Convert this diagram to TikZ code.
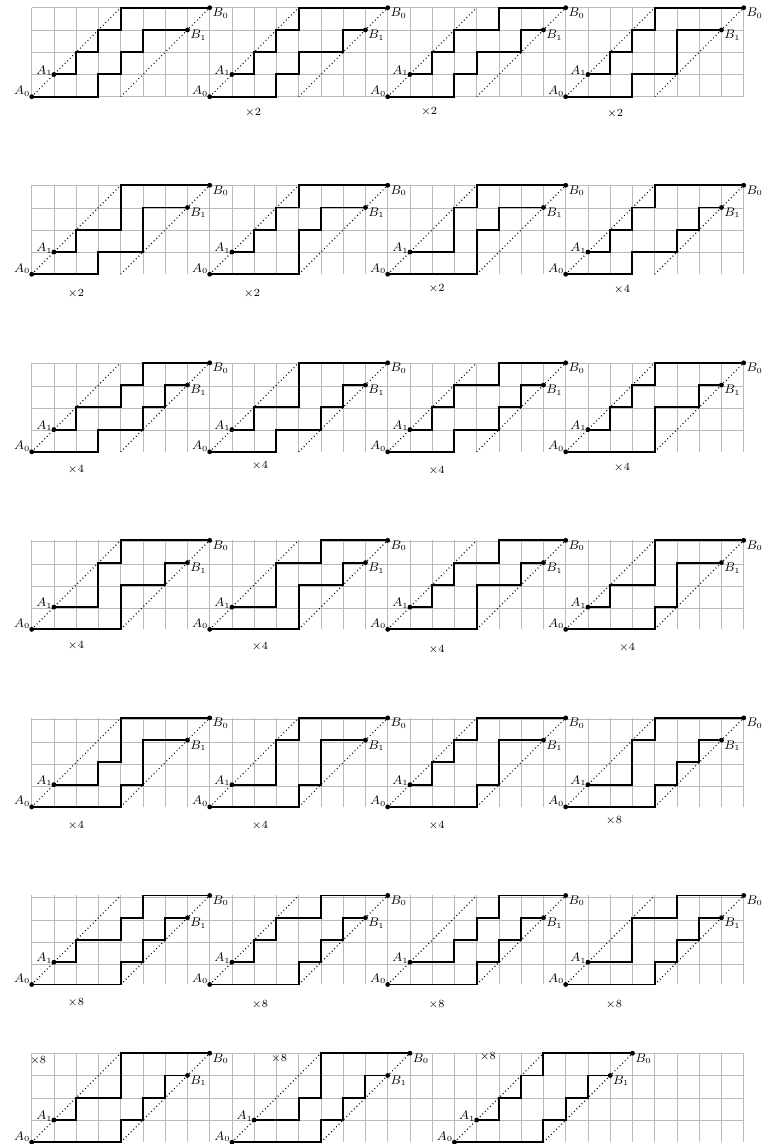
\documentclass[tikz,border=0pt]{standalone}
\begin{document}
\begin{tikzpicture}[x=0.5cm,y=0.5cm]
\tikzset{
  gridline/.style={draw=black!27, line width=0.5pt},
  lpath/.style={line width=1.25pt, line join=miter},
  diag/.style={line width=0.75pt, dash pattern=on 0.55pt off 1.75pt},
  vtx/.style={circle, fill=black, inner sep=0pt, minimum size=3.1pt},
  lbl/.style={font=\fontsize{7.6}{9}\selectfont, inner sep=0pt},
  mult/.style={font=\fontsize{7.4}{9}\selectfont, inner sep=0pt},
}
\newcommand\pnl[9]{%
  \begin{scope}[shift={(#2,#3)}]
    \coordinate (T#1) at (4,4);
    \coordinate (S#1) at (4,0);
    \node[vtx] (A0#1) at (0,0) {};
    \node[vtx] (A1#1) at (1,1) {};
    \node[vtx] (B0#1) at (8,4) {};
    \node[vtx] (B1#1) at (7,3) {};
    \draw[diag] (A0#1.center) -- (T#1);
    \draw[diag] (S#1) -- (B0#1.center);
    \draw[lpath] (A1#1.center) -| (#4,2) -| (#5,3) -| (#6,4) -- (B0#1.center);
    \draw[lpath] (A0#1.center) -| (#7,1) -| (#8,2) -| (#9,3) -- (B1#1.center);
    \node[lbl, anchor=east] (LA0#1) at (-0.05,0.25) {$A_0$};
    \node[lbl, anchor=east] (LA1#1) at (0.95,1.17) {$A_1$};
    \node[lbl, anchor=west] (LB0#1) at (8.12,3.76) {$B_0$};
    \node[lbl, anchor=west] (LB1#1) at (7.12,2.76) {$B_1$};
  \end{scope}}
\useasboundingbox (-1.425,4.346) rectangle (32.91,-47.07);
% grids
\foreach \yy in {0,-7.98,-15.96,-23.94,-31.92,-39.9,-46.99}
  \draw[gridline, step=1] (0,\yy) grid (32,\yy+4);
% panels
\foreach \nm/\xx/\yy/\ua/\ub/\uc/\la/\lb/\lc in {
  p1/0/0/2/3/4/3/4/5,
  p2/8/0/2/3/4/3/4/6,
  p3/16/0/2/3/5/3/4/6,
  p4/24/0/2/3/4/3/5/5,
  p5/0/-7.98/2/4/4/3/5/5,
  p6/8/-7.98/2/3/4/4/4/5,
  p7/16/-7.98/3/3/4/4/4/5,
  p8/24/-7.98/2/3/4/3/5/6,
  p9/0/-15.96/2/4/5/3/5/6,
  p10/8/-15.96/2/4/4/3/5/6,
  p11/16/-15.96/2/3/5/3/5/6,
  p12/24/-15.96/2/3/4/4/4/6,
  p13/0/-23.94/3/3/4/4/4/6,
  p14/8/-23.94/3/3/5/4/4/6,
  p15/16/-23.94/2/3/5/4/4/6,
  p16/24/-23.94/2/4/4/4/5/5,
  p17/0/-31.92/3/4/4/4/5/5,
  p18/8/-31.92/3/3/4/4/5/5,
  p19/16/-31.92/2/3/4/4/5/5,
  p20/24/-31.92/3/3/4/4/5/6,
  p21/0/-39.9/2/4/5/4/5/6,
  p22/8/-39.9/2/3/5/4/5/6,
  p23/16/-39.9/3/4/5/4/5/6,
  p24/24/-39.9/3/3/5/4/5/6,
  p25/0/-46.99/2/4/4/4/5/6,
  p26/9/-46.99/3/4/4/4/5/6,
  p27/19/-46.99/2/3/4/4/5/6}
  \pnl{\nm}{\xx}{\yy}{\ua}{\ub}{\uc}{\la}{\lb}{\lc};
% multiplicities
\foreach \i/\xx/\yy/\m in {
  2/9.95/-0.7/2, 3/17.86/-0.69/2, 4/26.22/-0.75/2,
  5/1.99/-8.87/2, 6/9.9/-8.87/2, 7/18.2/-8.64/2, 8/26.53/-8.69/4,
  9/1.99/-16.78/4, 10/10.26/-16.6/4, 11/18.2/-16.82/4, 12/26.53/-16.69/4,
  13/1.99/-24.69/4, 14/10.26/-24.73/4, 15/18.2/-24.87/4, 16/26.76/-24.78/4,
  17/1.99/-32.78/4, 18/10.26/-32.78/4, 19/18.2/-32.78/4, 20/26.17/-32.55/8,
  21/1.99/-40.73/8, 22/10.26/-40.82/8, 23/18.2/-40.82/8, 24/26.17/-40.82/8,
  25/0.29/-43.3/8, 26/11.12/-43.22/8, 27/20.5/-43.15/8}
  \node[mult] (m\i) at (\xx,\yy) {$\times\m$};
\end{tikzpicture}
\end{document}
